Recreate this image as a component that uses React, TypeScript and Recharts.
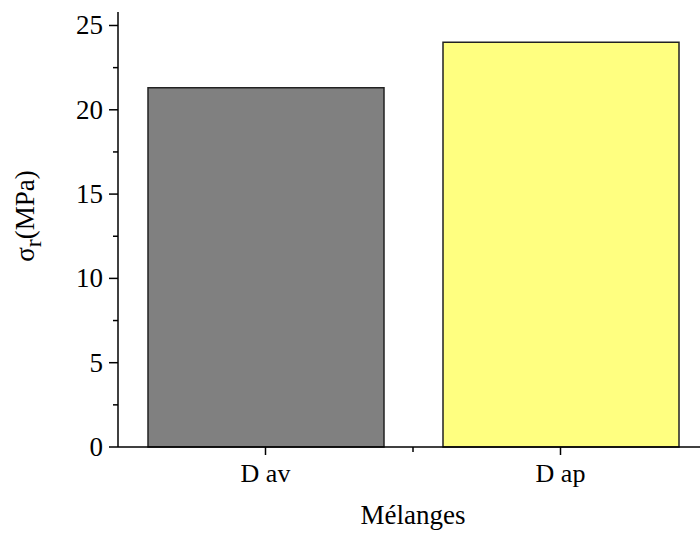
import { BarChart, Bar, Cell, XAxis, YAxis, Label } from 'recharts';

const categories = ['D av', 'D ap'];
const positions = [1, 2];
const strength = [21.3, 24.0];
const barColors = ['#808080', '#FFFF80'];
const yTicks = [0, 2.5, 5, 7.5, 10, 12.5, 15, 17.5, 20, 22.5, 25];
const xTicks = [1, 1.5, 2];

const data = positions.map((p, i) => ({ pos: p, name: categories[i], value: strength[i] }));

const FONT = '"Liberation Serif", "Times New Roman", serif';

const YTick = (props: any) => {
  const { x, y, payload } = props;
  const axisX = x + 15;
  const major = payload.value % 5 === 0;
  return (
    <g>
      <line x1={axisX - (major ? 9 : 5)} x2={axisX} y1={y} y2={y} stroke="#000" strokeWidth={1.5} />
      {major && (
        <text x={x} y={y} dy={9} textAnchor="end" fontFamily={FONT} fontSize={27} fill="#000">
          {payload.value}
        </text>
      )}
    </g>
  );
};

const XTick = (props: any) => {
  const { x, y, payload } = props;
  const axisY = y - 8;
  const idx = positions.indexOf(payload.value);
  const major = idx >= 0;
  return (
    <g>
      <line x1={x} x2={x} y1={axisY} y2={axisY + (major ? 8 : 5)} stroke="#000" strokeWidth={1.5} />
      {major && (
        <text x={x} y={y} dy={27} textAnchor="middle" fontFamily={FONT} fontSize={26} fill="#000">
          {categories[idx]}
        </text>
      )}
    </g>
  );
};

const YLabel = () => (
  <text transform="translate(34,216) rotate(-90)" textAnchor="middle" fontFamily={FONT} fontSize={27} fill="#000">
    <tspan>σ</tspan>
    <tspan dy={7} fontSize={24}>r</tspan>
    <tspan dy={-7}>(MPa)</tspan>
  </text>
);

export default function App() {
  return (
    <div style={{ position: 'absolute', left: 0, top: 0, width: 700, height: 535, overflow: 'hidden', background: '#fff' }}>
      <BarChart width={720} height={535} data={data} margin={{ top: 12, right: 12, bottom: 0, left: 0 }}>
        <XAxis
          dataKey="pos"
          type="number"
          domain={[0.5, 2.5]}
          ticks={xTicks}
          allowDataOverflow
          height={88}
          tickSize={8}
          tickMargin={0}
          tickLine={false}
          tick={<XTick />}
          axisLine={{ stroke: '#000', strokeWidth: 1.5 }}
        >
          <Label value="Mélanges" position="insideBottom" offset={11} style={{ fontFamily: FONT, fontSize: 27, fill: '#000' }} />
        </XAxis>
        <YAxis
          type="number"
          domain={[0, 25.8]}
          ticks={yTicks}
          width={118}
          tickSize={9}
          tickMargin={6}
          tickLine={false}
          tick={<YTick />}
          interval={0}
          axisLine={{ stroke: '#000', strokeWidth: 1.5 }}
          label={<YLabel />}
        />
        <Bar dataKey="value" barSize={236} stroke="#222" strokeWidth={1.5} isAnimationActive={false}>
          {data.map((d, i) => (
            <Cell key={d.name} fill={barColors[i]} />
          ))}
        </Bar>
      </BarChart>
    </div>
  );
}
